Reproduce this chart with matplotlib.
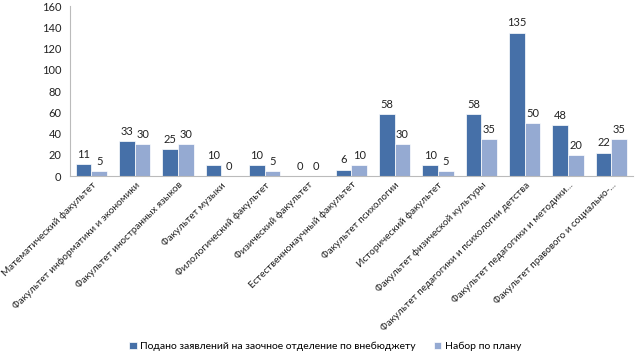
import matplotlib
matplotlib.use("Agg")
import matplotlib.pyplot as plt
import numpy as np

categories = [
    "Математический факультет",
    "Факультет информатики и экономики",
    "Факультет иностранных языков",
    "Факультет музыки",
    "Филологический факультет",
    "Физический факультет",
    "Естественнонаучный факультет",
    "Факультет психологии",
    "Исторический факультет",
    "Факультет физической культуры",
    "Факультет педагогики и психологии детства",
    "Факультет педагогики и методики...",
    "Факультет правового и социально-...",
]
applied = [11, 33, 25, 10, 10, 0, 6, 58, 10, 58, 135, 48, 22]
plan = [5, 30, 30, 0, 5, 0, 10, 30, 5, 35, 50, 20, 35]
series_names = ["Подано заявлений на заочное отделение по внебюджету", "Набор по плану"]
yticks = [0, 20, 40, 60, 80, 100, 120, 140, 160]

plt.rcParams['font.family'] = ['Lato', 'DejaVu Sans']

fig = plt.figure(figsize=(6.4, 3.57), dpi=100)
ax = fig.add_axes([0.109, 0.507, 0.880, 0.476])

x = np.arange(len(categories))
w = 0.36
c1 = "#4670A8"
c2 = "#95AAD2"
b1 = ax.bar(x - w/2, applied, w, color=c1, edgecolor="white", linewidth=0.5, label=series_names[0])
b2 = ax.bar(x + w/2, plan, w, color=c2, edgecolor="white", linewidth=0.5, label=series_names[1])
for rects, vals in ((b1, applied), (b2, plan)):
    for r, v in zip(rects, vals):
        ax.annotate(str(v), (r.get_x() + r.get_width()/2, v), xytext=(0, 3),
                    textcoords="offset points", ha="center", va="bottom",
                    fontsize=8, color="#222222")

ax.set_xlim(-0.5, len(categories) - 0.5)
ax.set_ylim(0, 160)
ax.set_yticks(yticks)
ax.tick_params(axis='y', labelsize=8, length=0, colors="#222222", pad=6)
ax.set_xticks(x)
ax.set_xticklabels(categories, rotation=45, ha="right", rotation_mode="anchor",
                   fontsize=7.1, color="#222222")
ax.tick_params(axis='x', length=0, pad=3)
for s in ("top", "right"):
    ax.spines[s].set_visible(False)
for s in ("left", "bottom"):
    ax.spines[s].set_color("#BBBBBB")
    ax.spines[s].set_linewidth(0.8)

fig.legend(handles=[b1, b2], labels=series_names, loc="center",
           bbox_to_anchor=(0.508, 0.03), ncol=2, frameon=False, fontsize=7.5,
           handlelength=0.7, handleheight=0.7, handletextpad=0.3, columnspacing=1.8)

fig.savefig("out.png", dpi=100)
